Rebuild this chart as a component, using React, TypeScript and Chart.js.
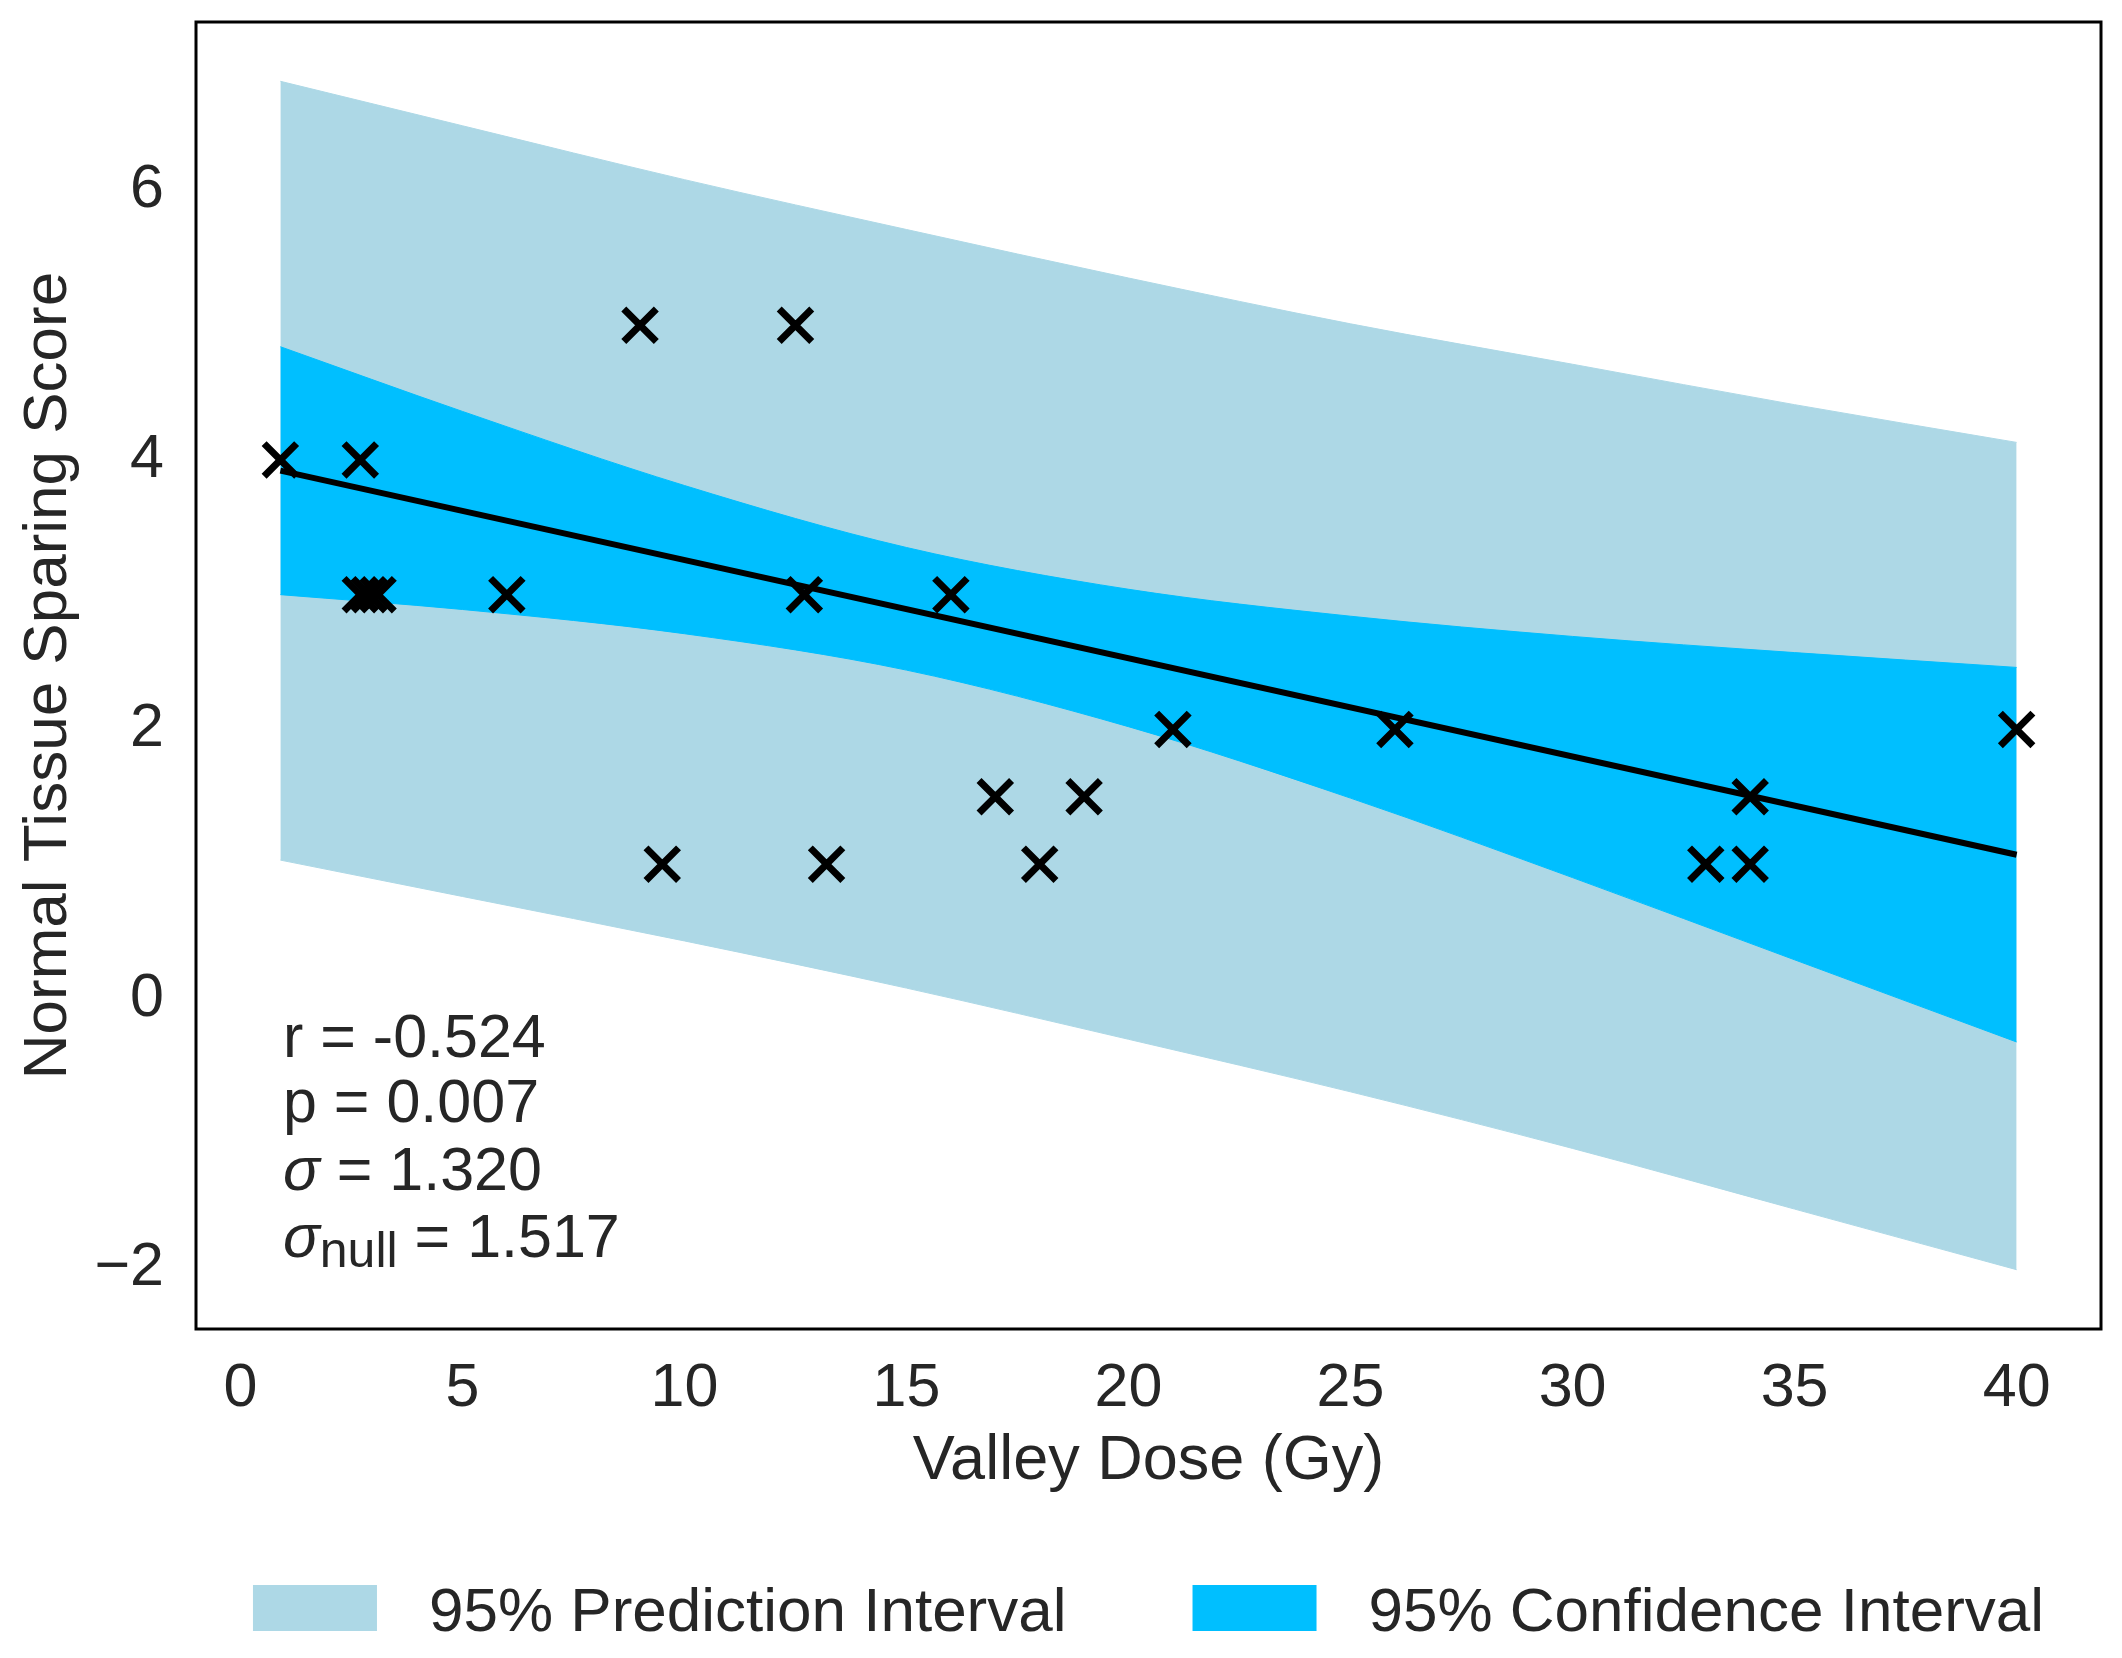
import { useEffect, useRef } from "react"
import Chart from "chart.js/auto"

// scatter: valley dose (Gy) vs normal tissue sparing score
const doseX = [0.9, 2.7, 2.7, 2.9, 3.1, 6.0, 9.0, 12.5, 12.7, 9.5, 13.2, 16.0, 17.0, 18.0, 19.0, 21.0, 26.0, 33.0, 34.0, 34.0, 40.0]
const scoreY = [4, 4, 3, 3, 3, 3, 5, 5, 3, 1, 1, 3, 1.5, 1, 1.5, 2, 2, 1, 1, 1.5, 2]

// regression line
const fitX = [0.9, 40]
const fitY = [3.92, 1.07]

// interval bands, read at these doses
const bandX = [0.9, 5, 10, 15, 20, 25, 30, 35, 40]
const piUpper = [6.81, 6.48, 6.08, 5.71, 5.35, 5.01, 4.71, 4.41, 4.13]
const piLower = [1.03, 0.76, 0.43, 0.08, -0.3, -0.69, -1.11, -1.56, -2.01]
const ciUpper = [4.84, 4.36, 3.81, 3.35, 3.04, 2.84, 2.69, 2.57, 2.46]
const ciLower = [3.0, 2.89, 2.71, 2.44, 2.02, 1.49, 0.9, 0.29, -0.32]

const legendLabels = ["95% Prediction Interval", "95% Confidence Interval"]
const statLines = [
  [{ t: "r = -0.524" }],
  [{ t: "p = 0.007" }],
  [{ t: "σ", it: true }, { t: " = 1.320" }],
  [{ t: "σ", it: true }, { t: "null", sub: true }, { t: " = 1.517" }],
]

const FONT = '"Liberation Sans", Arial, Helvetica, sans-serif'
const INK = "#262626"
const PI_COLOR = "#ADD8E6"
const CI_COLOR = "#00BFFF"
const SIZE = 61
const LABEL_SIZE = 62

const pts = (xs: number[], ys: number[]) => xs.map((x, i) => ({ x, y: ys[i] }))
const minus = (v: number) => (v < 0 ? "\u2212" + Math.abs(v) : String(v))

const decorations = {
  id: "decorations",
  afterDatasetsDraw(chart: any) {
    const { ctx, chartArea: a } = chart
    ctx.save()
    ctx.strokeStyle = "#000"
    ctx.lineWidth = 3
    ctx.strokeRect(a.left, a.top, a.right - a.left, a.bottom - a.top)
    ctx.restore()
  },
  afterDraw(chart: any) {
    const { ctx, chartArea: a } = chart
    ctx.save()
    ctx.fillStyle = INK
    ctx.textBaseline = "alphabetic"
    ctx.textAlign = "left"

    // stats box
    const baseOff = [272, 207, 139, 72]
    statLines.forEach((line, i) => {
      let x = a.left + 87
      const y = a.bottom - baseOff[i]
      line.forEach((seg: any) => {
        ctx.font = seg.it
          ? `italic ${SIZE}px ${FONT}`
          : seg.sub
          ? `50px ${FONT}`
          : `${SIZE}px ${FONT}`
        ctx.fillText(seg.t, x, seg.sub ? y + 10 : y)
        x += ctx.measureText(seg.t).width
      })
    })

    // legend below the axes
    const colors = [PI_COLOR, CI_COLOR]
    const boxW = 124
    const boxH = 46
    const gap = 52
    const spacing = 126
    ctx.font = `${LABEL_SIZE}px ${FONT}`
    const widths = legendLabels.map((l) => boxW + gap + ctx.measureText(l).width)
    const total = widths.reduce((s, w) => s + w, 0) + spacing
    let x = (a.left + a.right) / 2 - total / 2
    const top = 1585
    legendLabels.forEach((l, i) => {
      ctx.fillStyle = colors[i]
      ctx.fillRect(x, top, boxW, boxH)
      ctx.fillStyle = INK
      ctx.fillText(l, x + boxW + gap, top + boxH)
      x += widths[i] + spacing
    })
    ctx.restore()
  },
}

export default function App() {
  const canvasRef = useRef<HTMLCanvasElement>(null)
  const chartRef = useRef<Chart | null>(null)

  useEffect(() => {
    if (!canvasRef.current) return
    if (chartRef.current) chartRef.current.destroy()

    Chart.defaults.font.family = FONT
    Chart.defaults.color = INK

    const band = (data: number[], color: string, fill: any) => ({
      type: "line" as const,
      data: pts(bandX, data),
      borderColor: color,
      borderWidth: 1,
      backgroundColor: color,
      pointRadius: 0,
      fill,
      cubicInterpolationMode: "monotone" as const,
    })

    chartRef.current = new Chart(canvasRef.current, {
      type: "line",
      data: {
        datasets: [
          {
            type: "scatter",
            label: "Data",
            data: pts(doseX, scoreY),
            pointStyle: "crossRot",
            pointRadius: 23,
            pointBorderWidth: 7,
            borderWidth: 7,
            borderColor: "#000",
            backgroundColor: "#000",
          },
          {
            type: "line",
            label: "Fit",
            data: pts(fitX, fitY),
            borderColor: "#000",
            borderWidth: 6,
            pointRadius: 0,
            fill: false,
          },
          { label: legendLabels[1], ...band(ciUpper, CI_COLOR, "+1") },
          { label: "ci-lower", ...band(ciLower, CI_COLOR, false) },
          { label: legendLabels[0], ...band(piUpper, PI_COLOR, "+1") },
          { label: "pi-lower", ...band(piLower, PI_COLOR, false) },
        ] as any,
      },
      options: {
        animation: false,
        responsive: false,
        devicePixelRatio: 1,
        layout: { autoPadding: false, padding: { top: 22, right: 21, bottom: 159, left: 0 } },
        plugins: {
          legend: { display: false },
          tooltip: { enabled: false },
        },
        scales: {
          x: {
            type: "linear",
            min: -1.0,
            max: 41.9,
            grid: { display: false, drawTicks: false },
            border: { display: false },
            ticks: {
              stepSize: 5,
              includeBounds: false,
              padding: 24,
              font: { size: SIZE },
              color: INK,
              maxRotation: 0,
              callback: (v: any) => minus(Number(v)),
            },
            title: {
              display: true,
              text: "Valley Dose (Gy)",
              font: { size: LABEL_SIZE + 1 },
              color: INK,
              padding: { top: 0, bottom: 0 },
            },
            afterFit: (s: any) => {
              s.height = 170
              s.paddingLeft = 0
              s.paddingRight = 0
            },
          },
          y: {
            type: "linear",
            min: -2.45,
            max: 7.25,
            grid: { display: false, drawTicks: false },
            border: { display: false },
            ticks: {
              stepSize: 2,
              includeBounds: false,
              padding: 32,
              font: { size: SIZE },
              color: INK,
              callback: (v: any) => minus(Number(v)),
            },
            title: {
              display: true,
              text: "Normal Tissue Sparing Score",
              font: { size: LABEL_SIZE },
              color: INK,
              padding: { top: 12, bottom: 0 },
            },
            afterFit: (s: any) => {
              s.width = 196
              s.paddingTop = 0
              s.paddingBottom = 0
            },
          },
        },
      },
      plugins: [decorations],
    })

    return () => {
      if (chartRef.current) {
        chartRef.current.destroy()
        chartRef.current = null
      }
    }
  }, [])

  return (
    <div style={{ position: "absolute", left: 0, top: 0, width: 2122, height: 1658, background: "#fff" }}>
      <canvas ref={canvasRef} width={2122} height={1658} />
    </div>
  )
}
